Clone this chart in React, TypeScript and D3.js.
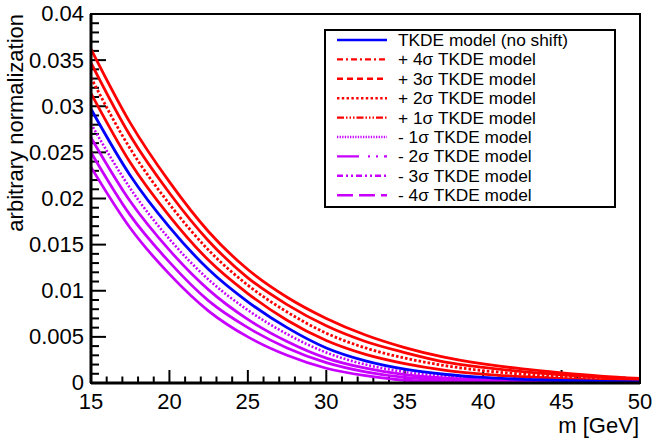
import React from "react";
import * as d3 from "d3";

// ---- data ----
const mass = [15, 17.5, 20, 22.5, 25, 27.5, 30, 32.5, 35, 37.5, 40, 42.5, 45, 47.5, 50];

const noShift = [0.0297, 0.0225, 0.0169, 0.0123, 0.0088, 0.0060, 0.0038, 0.0024, 0.0015, 0.00095, 0.0006, 0.0004, 0.00027, 0.00018, 0.00012];
const plus4 = [0.0362, 0.0282, 0.0218, 0.0164, 0.0123, 0.0093, 0.0070, 0.0052, 0.00384, 0.0028, 0.00207, 0.00152, 0.0011, 0.00075, 0.0005];
const plus3 = [0.0347, 0.0268, 0.0206, 0.0154, 0.0114, 0.0085, 0.0062, 0.0045, 0.0033, 0.0023, 0.0017, 0.00124, 0.00089, 0.00061, 0.0004];
const plus2 = [0.0331, 0.0254, 0.0194, 0.0144, 0.0106, 0.0077, 0.0054, 0.0038, 0.0027, 0.0019, 0.00134, 0.00096, 0.00069, 0.00047, 0.00031];
const plus1 = [0.0314, 0.0239, 0.0181, 0.0133, 0.0097, 0.0068, 0.0046, 0.0031, 0.0021, 0.0014, 0.00097, 0.00068, 0.00048, 0.00032, 0.00022];
const minus1 = [0.0281, 0.0211, 0.0156, 0.0112, 0.0079, 0.0053, 0.0033, 0.0020, 0.0012, 0.00075, 0.00047, 0.00031, 0.00021, 0.00014, 0.00009];
const minus2 = [0.0266, 0.0197, 0.0144, 0.0101, 0.0069, 0.0045, 0.0027, 0.0016, 0.0009, 0.00055, 0.00034, 0.00022, 0.00015, 0.0001, 0.00006];
const minus3 = [0.0250, 0.0182, 0.0131, 0.0089, 0.0060, 0.0038, 0.0022, 0.0012, 0.0006, 0.00035, 0.00021, 0.00014, 0.00009, 0.00006, 0.00004];
const minus4 = [0.0234, 0.0168, 0.0118, 0.0078, 0.0050, 0.0030, 0.0016, 0.0008, 0.0003, 0.00015, 0.00008, 0.00005, 0.00003, 0.00002, 0.00001];

const legendLabels = [
  "TKDE model (no shift)",
  "+ 4σ TKDE model",
  "+ 3σ TKDE model",
  "+ 2σ TKDE model",
  "+ 1σ TKDE model",
  "- 1σ TKDE model",
  "- 2σ TKDE model",
  "- 3σ TKDE model",
  "- 4σ TKDE model",
];

const yTickLabels = ["0", "0.005", "0.01", "0.015", "0.02", "0.025", "0.03", "0.035", "0.04"];
const yTickValues = [0, 0.005, 0.01, 0.015, 0.02, 0.025, 0.03, 0.035, 0.04];
const xTickValues = [15, 20, 25, 30, 35, 40, 45, 50];

const RED = "#ff0000";
const BLUE = "#0000ff";
const MAG = "#c800ff";

// series: values, colour, dash in plot, dash in legend
const series = [
  { values: noShift, color: BLUE, plotDash: "", legDash: "", w: 2.8 },
  { values: plus4, color: RED, plotDash: "", legDash: "6 3 2 3", w: 2.8 },
  { values: plus3, color: RED, plotDash: "", legDash: "6 4", w: 2.8 },
  { values: plus2, color: RED, plotDash: "2.6 2", legDash: "2.4 2.4", w: 2.8 },
  { values: plus1, color: RED, plotDash: "", legDash: "7 2 1.5 2 1.5 2 1.5 2", w: 2.8 },
  { values: minus1, color: MAG, plotDash: "2 1.8", legDash: "1.3 1.3", w: 2.6 },
  { values: minus2, color: MAG, plotDash: "", legDash: "22 9 2 6 2 6", w: 2.8 },
  { values: minus3, color: MAG, plotDash: "", legDash: "6 3 2 3 2 3", w: 2.8 },
  { values: minus4, color: MAG, plotDash: "", legDash: "16 6", w: 2.8 },
];

const FONT = "'Liberation Sans', Arial, Helvetica, sans-serif";

export default function App() {
  const W = 652, H = 439;
  const x0 = 91, x1 = 640, yTop = 14, yBot = 383;
  const x = d3.scaleLinear().domain([15, 50]).range([x0, x1]);
  const y = d3.scaleLinear().domain([0, 0.04]).range([yBot, yTop]);

  const xMinor = d3.range(15, 50.001, 1);
  const yMinor = d3.range(0, 0.04001, 0.001);

  const line = d3
    .line<number>()
    .x((_, i) => x(mass[i]))
    .y((d) => y(d))
    .curve(d3.curveMonotoneX);

  const legX0 = 325, legY0 = 30, legW = 290, legH = 177;
  const rowY = (i: number) => 40 + i * 19.4;

  return (
    <div style={{ position: "absolute", left: 0, top: 0 }}>
      <svg width={W} height={H} style={{ display: "block", background: "#fff" }}>
        <defs>
          <clipPath id="plotclip">
            <rect x={x0} y={yTop} width={x1 - x0} height={yBot - yTop} />
          </clipPath>
        </defs>

        {/* ticks */}
        <g stroke="#000" strokeWidth={2}>
          {xMinor.map((v) => {
            const major = xTickValues.some((t) => Math.abs(t - v) < 1e-9);
            return (
              <line key={"xm" + v} x1={x(v)} x2={x(v)} y1={yBot} y2={yBot - (major ? 13 : 6.5)} />
            );
          })}
          {yMinor.map((v, i) => {
            const major = i % 5 === 0;
            return (
              <line key={"ym" + i} x1={x0} x2={x0 + (major ? 15 : 8)} y1={y(v)} y2={y(v)} />
            );
          })}
        </g>

        {/* curves */}
        <g clipPath="url(#plotclip)" fill="none">
          {series
            .slice()
            .reverse()
            .map((s, i) => (
              <path
                key={"s" + i}
                d={line(s.values) || ""}
                stroke={s.color}
                strokeWidth={s.w}
                strokeDasharray={s.plotDash || undefined}
              />
            ))}
        </g>

        {/* frame */}
        <rect x={x0} y={yTop} width={x1 - x0} height={yBot - yTop} fill="none" stroke="#000" strokeWidth={2} />
        <line x1={x0} x2={x1} y1={yBot} y2={yBot} stroke="#000" strokeWidth={3} />
        <line x1={x0} x2={x0} y1={yTop} y2={yBot} stroke="#000" strokeWidth={3} />

        {/* tick labels */}
        <g fontFamily={FONT} fontSize={22} fill="#000">
          {yTickValues.map((v, i) => (
            <text key={"yl" + i} x={84} y={y(v) + 7.4} textAnchor="end">
              {yTickLabels[i]}
            </text>
          ))}
          {xTickValues.map((v) => (
            <text key={"xl" + v} x={x(v)} y={409} textAnchor="middle">
              {String(v)}
            </text>
          ))}
          <text x={639} y={433} textAnchor="end">m [GeV]</text>
          <text transform={`translate(23,14) rotate(-90)`} textAnchor="end">
            arbitrary normalization
          </text>
        </g>

        {/* legend */}
        <rect x={legX0} y={legY0} width={legW} height={legH} fill="#fff" stroke="#000" strokeWidth={2} />
        <g fontFamily={FONT} fontSize={17.3} fill="#000">
          {series.map((s, i) => (
            <g key={"lg" + i}>
              <line
                x1={337}
                x2={387}
                y1={rowY(i)}
                y2={rowY(i)}
                stroke={s.color}
                strokeWidth={2.4}
                strokeDasharray={s.legDash || undefined}
              />
              <text x={398} y={rowY(i) + 6}>{legendLabels[i]}</text>
            </g>
          ))}
        </g>
      </svg>
    </div>
  );
}
